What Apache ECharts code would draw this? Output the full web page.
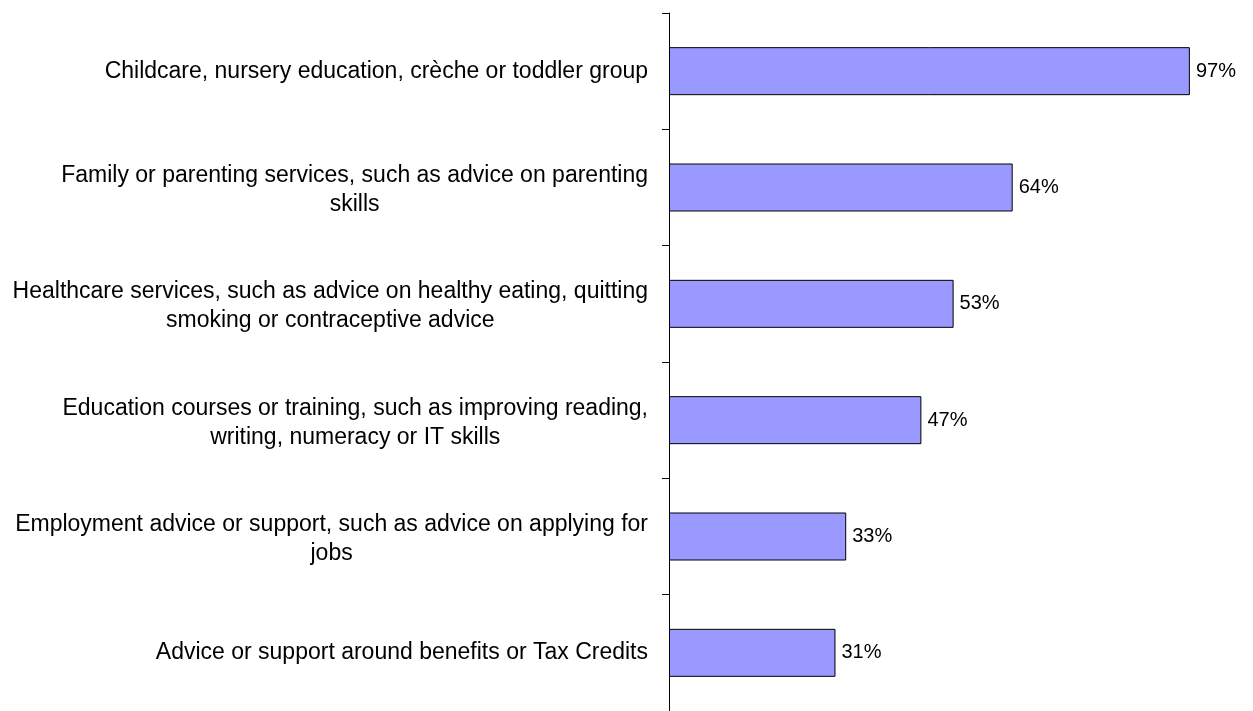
<!DOCTYPE html>
<html>
<head>
<meta charset="utf-8">
<script src="https://cdn.jsdelivr.net/npm/echarts@6/dist/echarts.min.js"></script>
<style>
  html, body { margin: 0; padding: 0; background: #ffffff; }
  #chart { width: 1253px; height: 711px; }
</style>
</head>
<body>
<div id="chart"></div>
<script>
// Service categories, each entry holds the wrapped lines of its label
const categories = [
  ['Childcare, nursery education, crèche or toddler group'],
  ['Family or parenting services, such as advice on parenting', 'skills'],
  ['Healthcare services, such as advice on healthy eating, quitting', 'smoking or contraceptive advice'],
  ['Education courses or training, such as improving reading,', 'writing, numeracy or IT skills'],
  ['Employment advice or support, such as advice on applying for', 'jobs'],
  ['Advice or support around benefits or Tax Credits']
];
// Share of respondents (%)
const values = [97, 64, 53, 47, 33, 31];

const chart = echarts.init(document.getElementById('chart'), null, { renderer: 'canvas' });

const labelFont = 'Liberation Sans, Arial, sans-serif';

chart.setOption({
  animation: false,
  backgroundColor: '#ffffff',
  grid: { left: 669, right: 47, top: 13, bottom: -2, containLabel: false },
  xAxis: {
    type: 'value',
    min: 0,
    max: 100,
    show: false
  },
  yAxis: {
    type: 'category',
    inverse: true,
    data: categories.map(function (lines) { return lines.join('\n'); }),
    axisLine: { show: true, lineStyle: { color: '#000000', width: 1 } },
    axisTick: { show: true, length: 7, lineStyle: { color: '#000000', width: 1 } },
    axisLabel: {
      margin: 21,
      fontFamily: labelFont,
      fontSize: 23,
      color: '#000000',
      lineHeight: 34,
      // each line is centred inside the right-aligned label block;
      // wrapped labels sit slightly lower, as the first line gets extra top room
      formatter: function (v) {
        const lines = v.split('\n');
        return lines.map(function (l, i) {
          const style = (lines.length > 1 && i === 0) ? 'f' : 'c';
          return '{' + style + '|' + l + '}';
        }).join('\n');
      },
      rich: {
        c: { align: 'center', fontFamily: labelFont, fontSize: 23, lineHeight: 34, color: '#000000' },
        f: { align: 'center', fontFamily: labelFont, fontSize: 23, lineHeight: 34, color: '#000000', padding: [10, 0, 0, 0] }
      }
    },
    splitLine: { show: false }
  },
  series: [{
    type: 'bar',
    data: values,
    barWidth: 48,
    itemStyle: { color: '#9999ff', borderColor: '#000000', borderWidth: 1 },
    label: {
      show: true,
      position: 'right',
      distance: 6,
      formatter: '{c}%',
      fontFamily: labelFont,
      fontSize: 20,
      color: '#000000'
    }
  }]
});
</script>
</body>
</html>
